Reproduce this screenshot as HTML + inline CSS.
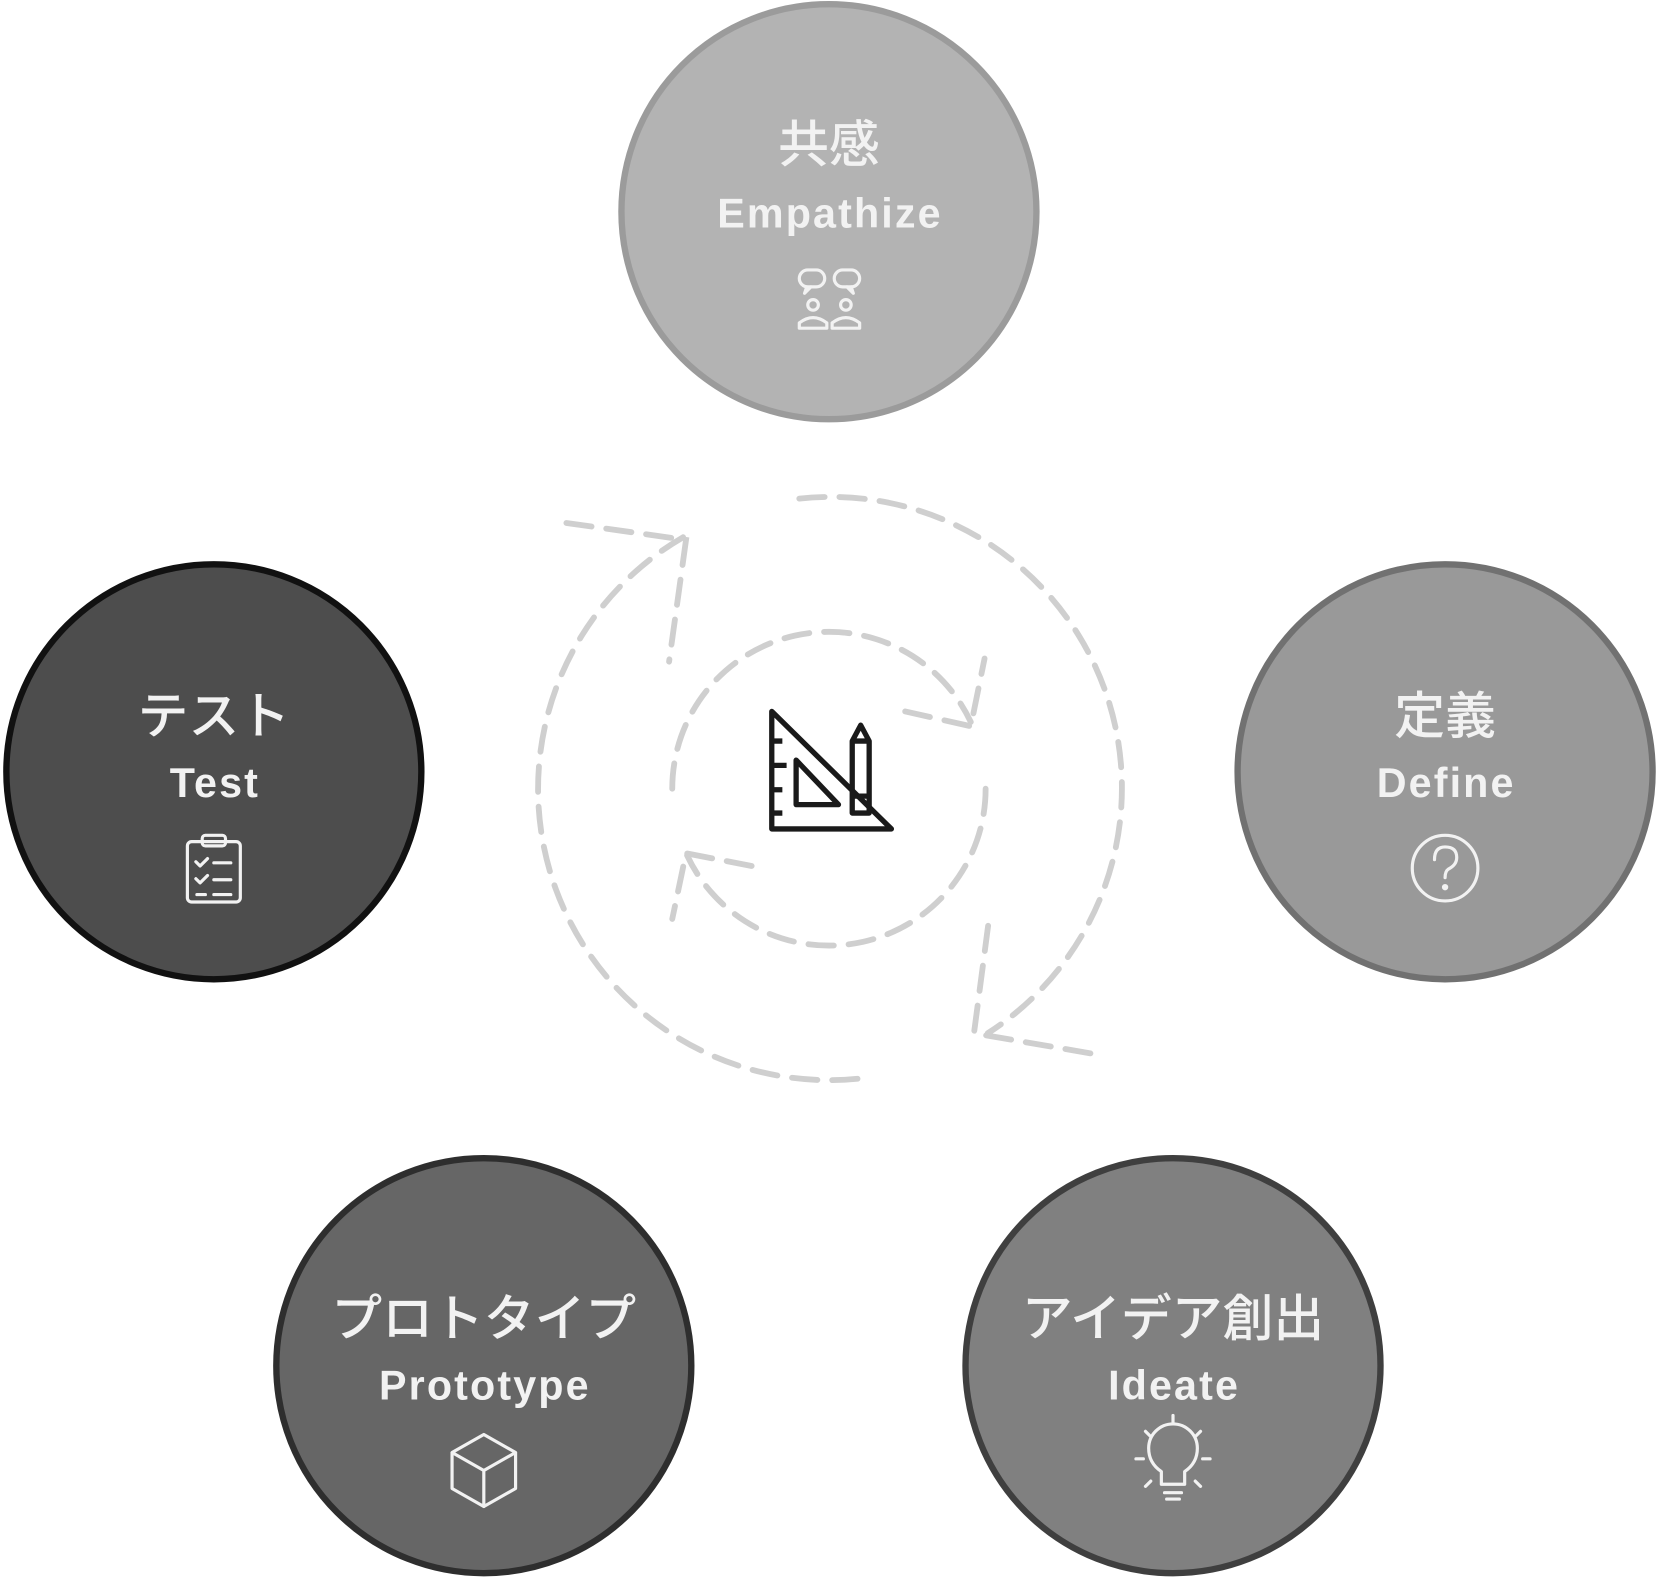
<!DOCTYPE html>
<html><head><meta charset="utf-8"><style>
html,body{margin:0;padding:0;background:#fff;}
svg{display:block;}
.jp{font-family:"Liberation Sans","Noto Sans CJK JP",sans-serif;font-size:48px;fill:#f2f2f2;text-anchor:middle;font-weight:500;}
.en{font-family:"Liberation Sans",sans-serif;font-size:39px;fill:#f2f2f2;text-anchor:middle;font-weight:bold;letter-spacing:2px;}
</style></head><body>
<svg width="1660" height="1579" viewBox="0 0 1568 1491.5" xmlns="http://www.w3.org/2000/svg">
<circle cx="783" cy="200" r="196" fill="#b3b3b3" stroke="#9b9b9b" stroke-width="6"/>
<circle cx="1365" cy="729" r="196" fill="#999" stroke="#717171" stroke-width="6"/>
<circle cx="1108" cy="1290" r="196" fill="#808080" stroke="#3f3f3f" stroke-width="6"/>
<circle cx="457" cy="1290" r="196" fill="#666" stroke="#2e2e2e" stroke-width="6"/>
<circle cx="202" cy="729" r="196" fill="#4d4d4d" stroke="#111" stroke-width="6"/>

<text class="jp" x="783" y="153">共感</text>
<text class="en" x="784" y="215">Empathize</text>
<text class="jp" x="1365" y="693">定義</text>
<text class="en" x="1366" y="753">Define</text>
<text class="jp" x="1108" y="1262">アイデア創出</text>
<text class="en" x="1109" y="1322">Ideate</text>
<text class="jp" x="457" y="1262">プロトタイプ</text>
<text class="en" x="458" y="1322">Prototype</text>
<text class="jp" x="202" y="693">テスト</text>
<text class="en" x="203" y="753">Test</text>

<g fill="none" stroke="#f2f2f2" stroke-width="3" stroke-linejoin="round" stroke-linecap="round">
 <rect x="755" y="255" width="24" height="16" rx="8"/><path d="M762 271 l-2 6 6-6"/>
 <rect x="788" y="255" width="24" height="16" rx="8"/><path d="M804 271 l2 6 -6-6"/>
 <circle cx="768" cy="288" r="5"/><path d="M755 310 v-5 q13-10 26 0 v5 z"/>
 <circle cx="799" cy="288" r="5"/><path d="M786 310 v-5 q13-10 26 0 v5 z"/>
 <circle cx="1365" cy="820" r="31"/>
 <path d="M1355 812 q0-12 10-12 q11 0 11 10 q0 7-8 11 q-3 2-3 8"/>
 <circle cx="1365" cy="838" r="1.5" fill="#f2f2f2"/>
 <rect x="177" y="795" width="50" height="57" rx="4"/>
 <rect x="191" y="789" width="22" height="10" rx="3"/>
 <path d="M185 814 l4 4 7-7 M202 815 h16 M185 830 l4 4 7-7 M202 831 h16 M186 845 h8 M202 845 h16"/>
 <path d="M457 1355 l30 17 v34 l-30 17 l-30-17 v-34 z M427 1372 l30 17 l30-17 M457 1389 v34"/>
 <path d="M1097 1402 v-12 q-12-8-12-22 a23 23 0 0 1 46 0 q0 14-12 22 v12 z M1100 1410 h16 M1102 1416 h12"/>
 <path d="M1108 1345 v-8 M1080 1378 h-7 M1143 1378 h-7 M1087 1357 l-5-5 M1129 1357 l5-5 M1087 1399 l-5 5 M1129 1399 l5 5"/>
</g>

<g fill="none" stroke="#cfcfcf" stroke-width="5.5" stroke-dasharray="24 14" stroke-linecap="round">
 <path d="M755 471 A275 275 0 0 1 933 976"/>
 <path d="M1030 995 L920 976 L935 862"/>
 <path d="M810 1019 A275 275 0 0 1 646 507"/>
 <path d="M535 494 L648 510 L632 625"/>
 <path d="M635 745 A148 148 0 0 1 917 682"/>
 <path d="M855 672 L917 686 L930 622"/>
 <path d="M931 745 A148 148 0 0 1 649 808"/>
 <path d="M710 818 L648 806 L635 868"/>
</g>

<g fill="none" stroke="#1a1a1a" stroke-width="5" stroke-linejoin="round">
 <path d="M729 672 V783 H842 Z"/>
 <path d="M752 718 V760 H792 Z"/>
 <path d="M729 700 h10 M729 723 h14 M729 746 h10 M729 768 h10"/>
 <path d="M805 768 V700 l8-15 l8 15 V768 Z M805 752 h16 M805 700 h16"/>
</g>
</svg>
</body></html>
